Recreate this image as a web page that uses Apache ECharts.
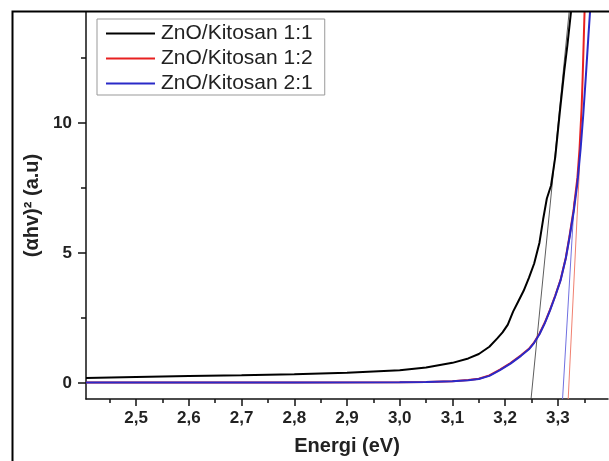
<!DOCTYPE html>
<html>
<head>
<meta charset="utf-8">
<script src="https://cdn.jsdelivr.net/npm/echarts@6/dist/echarts.min.js"></script>
<style>
html,body{margin:0;padding:0;background:#fff;}
#c{width:609px;height:461px;}
</style>
</head>
<body>
<div id="c"></div>
<script>
// Series names
var seriesNames = ['ZnO/Kitosan 1:1', 'ZnO/Kitosan 1:2', 'ZnO/Kitosan 2:1'];

// ZnO/Kitosan 1:1 (black)
var energy11 = [2.405, 2.5, 2.6, 2.7, 2.8, 2.9, 3.0, 3.05, 3.1, 3.13, 3.15, 3.17, 3.185, 3.195, 3.205, 3.215, 3.225, 3.235, 3.245, 3.255, 3.265, 3.272, 3.279, 3.287, 3.295, 3.304, 3.312, 3.318, 3.326];
var absorb11 = [0.20, 0.24, 0.27, 0.30, 0.34, 0.40, 0.50, 0.60, 0.78, 0.95, 1.12, 1.40, 1.72, 1.95, 2.25, 2.75, 3.15, 3.55, 4.05, 4.60, 5.40, 6.30, 7.10, 7.60, 8.70, 10.5, 12.0, 13.0, 14.5];

// ZnO/Kitosan 1:2 (red)
var energy12 = [2.405, 2.8, 3.0, 3.05, 3.1, 3.13, 3.15, 3.17, 3.19, 3.21, 3.23, 3.245, 3.255, 3.265, 3.275, 3.285, 3.295, 3.305, 3.315, 3.322, 3.33, 3.337, 3.341, 3.345, 3.347, 3.349, 3.351];
var absorb12 = [0.02, 0.02, 0.03, 0.04, 0.07, 0.12, 0.17, 0.30, 0.52, 0.77, 1.07, 1.32, 1.57, 1.90, 2.32, 2.82, 3.37, 3.97, 4.82, 5.65, 6.70, 7.90, 9.00, 10.6, 11.8, 13.2, 14.6];

// ZnO/Kitosan 2:1 (blue)
var energy21 = [2.405, 2.8, 3.0, 3.05, 3.1, 3.13, 3.15, 3.17, 3.19, 3.21, 3.23, 3.245, 3.255, 3.265, 3.275, 3.285, 3.295, 3.305, 3.315, 3.322, 3.33, 3.337, 3.343, 3.348, 3.353, 3.358, 3.362];
var absorb21 = [0.02, 0.02, 0.03, 0.04, 0.07, 0.11, 0.16, 0.28, 0.50, 0.75, 1.05, 1.30, 1.55, 1.88, 2.30, 2.80, 3.35, 3.95, 4.80, 5.60, 6.60, 7.70, 9.00, 10.3, 11.8, 13.4, 14.6];

// Tangent (extrapolation) lines: [energy, value] end points
var tangent11 = [[3.249, -0.62], [3.3213, 14.27]];
var tangent12 = [[3.3195, -0.61], [3.3412, 8.4]];
var tangent21 = [[3.3088, -0.61], [3.3310, 7.0]];

// Axis ticks
var xMajor = [2.5, 2.6, 2.7, 2.8, 2.9, 3.0, 3.1, 3.2, 3.3];
var xMinor = [2.45, 2.55, 2.65, 2.75, 2.85, 2.95, 3.05, 3.15, 3.25, 3.35];
var yMajor = [0, 5, 10];
var yMinor = [2.5, 7.5, 12.5];

function pairs(xs, ys) { return xs.map(function (x, i) { return [x, ys[i]]; }); }

var X_MIN = 2.405, X_MAX = 3.395, Y_MIN = -0.61, Y_MAX = 14.27;
var axisCol = '#111';
var FONT = 'Liberation Sans, Arial, sans-serif';
var labelStyle = { fontFamily: FONT, fontSize: 17, fontWeight: 'bold', color: '#222' };

var chart = echarts.init(document.getElementById('c'), null, { renderer: 'canvas' });
chart.setOption({
  animation: false,
  backgroundColor: '#fff',
  grid: { left: 86, top: 12, right: 1, bottom: 59, containLabel: false },
  legend: {
    orient: 'vertical',
    left: 97, top: 19,
    data: seriesNames,
    icon: 'rect',
    itemWidth: 49, itemHeight: 2, itemGap: 4,
    padding: [4, 12, 1, 9],
    borderColor: '#999', borderWidth: 1,
    textStyle: { fontFamily: FONT, fontSize: 21, color: '#222', padding: [0, 0, 0, 1] }
  },
  xAxis: [{
    type: 'value', min: X_MIN, max: X_MAX,
    axisLine: { show: true, onZero: false, lineStyle: { color: axisCol, width: 1.5 } },
    axisTick: { show: true, customValues: xMajor, length: 7, lineStyle: { color: axisCol, width: 1.5 } },
    axisLabel: Object.assign({ customValues: xMajor, margin: 11, formatter: function (v) { return v.toFixed(1).replace('.', ','); } }, labelStyle),
    splitLine: { show: false },
    name: 'Energi (eV)', nameLocation: 'middle', nameGap: 37,
    nameTextStyle: { fontFamily: FONT, fontSize: 20, fontWeight: 'bold', color: '#222' }
  }, {
    type: 'value', min: X_MIN, max: X_MAX, position: 'bottom',
    axisLine: { show: false, onZero: false },
    axisTick: { show: true, customValues: xMinor, length: 4, lineStyle: { color: axisCol, width: 1.5 } },
    axisLabel: { show: false }, splitLine: { show: false }
  }],
  yAxis: [{
    type: 'value', min: Y_MIN, max: Y_MAX,
    axisLine: { show: true, onZero: false, lineStyle: { color: axisCol, width: 1.5 } },
    axisTick: { show: true, customValues: yMajor, length: 8, lineStyle: { color: axisCol, width: 1.5 } },
    axisLabel: Object.assign({ customValues: yMajor, margin: 14 }, labelStyle),
    splitLine: { show: false },
    name: '(αhv)² (a.u)', nameLocation: 'middle', nameGap: 44, nameRotate: 90,
    nameTextStyle: { fontFamily: FONT, fontSize: 20, fontWeight: 'bold', color: '#222' }
  }, {
    type: 'value', min: Y_MIN, max: Y_MAX, position: 'left',
    axisLine: { show: false, onZero: false },
    axisTick: { show: true, customValues: yMinor, length: 5, lineStyle: { color: axisCol, width: 1.5 } },
    axisLabel: { show: false }, splitLine: { show: false }
  }],
  graphic: [{
    type: 'polyline', silent: true, z: 100,
    shape: { points: [[12.5, 461], [12.5, 11.5], [609, 11.5]] },
    style: { stroke: '#000', lineWidth: 2, fill: null }
  }],
  series: [
    { name: 'tan11', type: 'line', data: tangent11, symbol: 'none', silent: true, lineStyle: { color: '#333', width: 0.8 }, z: 1 },
    { name: 'tan12', type: 'line', data: tangent12, symbol: 'none', silent: true, lineStyle: { color: '#f08070', width: 1 }, z: 1 },
    { name: 'tan21', type: 'line', data: tangent21, symbol: 'none', silent: true, lineStyle: { color: '#7070e0', width: 1 }, z: 1 },
    { name: seriesNames[0], type: 'line', data: pairs(energy11, absorb11), symbol: 'none', color: '#000', lineStyle: { color: '#000', width: 2 }, z: 3 },
    { name: seriesNames[1], type: 'line', data: pairs(energy12, absorb12), symbol: 'none', color: '#e82020', lineStyle: { color: '#e82020', width: 2 }, z: 3 },
    { name: seriesNames[2], type: 'line', data: pairs(energy21, absorb21), symbol: 'none', color: '#2a2ac8', lineStyle: { color: '#2a2ac8', width: 2 }, z: 4 }
  ]
});
</script>
</body>
</html>
